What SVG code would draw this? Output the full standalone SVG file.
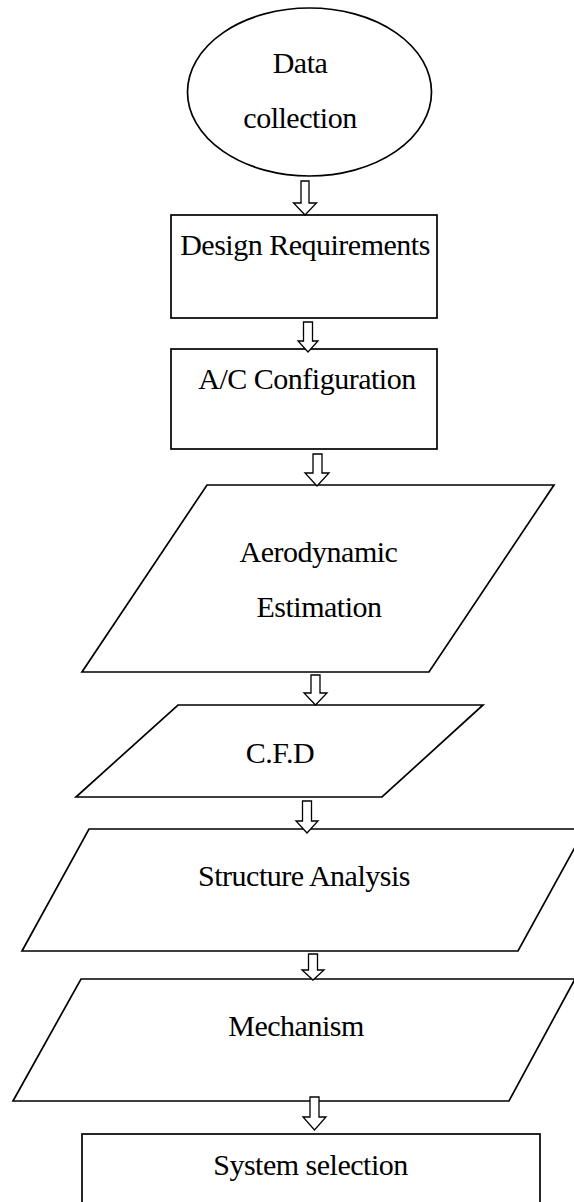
<svg xmlns="http://www.w3.org/2000/svg" width="574" height="1202" viewBox="0 0 574 1202">
<style>
.shape{fill:#fff;stroke:#000;stroke-width:1.7}
.arrow{fill:#fff;stroke:#000;stroke-width:1.3;stroke-linejoin:miter}
text{font-family:"Liberation Serif","Times New Roman",serif;font-size:30px;letter-spacing:-0.5px;fill:#000;text-anchor:middle}
</style>
<rect width="574" height="1202" fill="#fff"/>
<g id="node-data">
<ellipse class="shape" cx="309.5" cy="92" rx="122" ry="84"/>
<text x="300" y="73">Data</text>
<text x="300" y="128">collection</text>
</g>
<g id="node-design">
<rect class="shape" x="171" y="215" width="266" height="103"/>
<text x="305" y="255">Design Requirements</text>
</g>
<g id="node-config">
<rect class="shape" x="171" y="349" width="266" height="100"/>
<text x="307" y="389">A/C Configuration</text>
</g>
<g id="node-aero">
<polygon class="shape" points="207,485 554,485 429,672 82,672"/>
<text x="318.5" y="562">Aerodynamic</text>
<text x="319" y="617">Estimation</text>
</g>
<g id="node-cfd">
<polygon class="shape" points="178,705 483,705 382,797 76,797"/>
<text x="280" y="763">C.F.D</text>
</g>
<g id="node-structure">
<polygon class="shape" points="89,829 585,829 518,951 22,951"/>
<text x="304" y="886">Structure Analysis</text>
</g>
<g id="node-mechanism">
<polygon class="shape" points="81,979 575,979 509,1101 13,1101"/>
<text x="296" y="1036">Mechanism</text>
</g>
<g id="node-system">
<rect class="shape" x="82" y="1134" width="458" height="80"/>
<text x="310.5" y="1175">System selection</text>
</g>
<g id="connectors">
<polygon class="arrow" points="301,181 309,181 309,203 316.5,203 305,215 293.5,203 301,203"/>
<polygon class="arrow" points="303.5,322 312.5,322 312.5,341 318,341 308,352 298,341 303.5,341"/>
<polygon class="arrow" points="313,454 322,454 322,473 329,473 317,486 305,473 313,473"/>
<polygon class="arrow" points="311,675 320,675 320,693 327,693 315.5,705 304,693 311,693"/>
<polygon class="arrow" points="302.5,801 311.5,801 311.5,821 318,821 307,833 296,821 302.5,821"/>
<polygon class="arrow" points="308.5,954 317.5,954 317.5,970 324,970 313,980 302,970 308.5,970"/>
<polygon class="arrow" points="310,1097 319,1097 319,1117 326,1117 314.5,1130 303,1117 310,1117"/>
</g>
</svg>
